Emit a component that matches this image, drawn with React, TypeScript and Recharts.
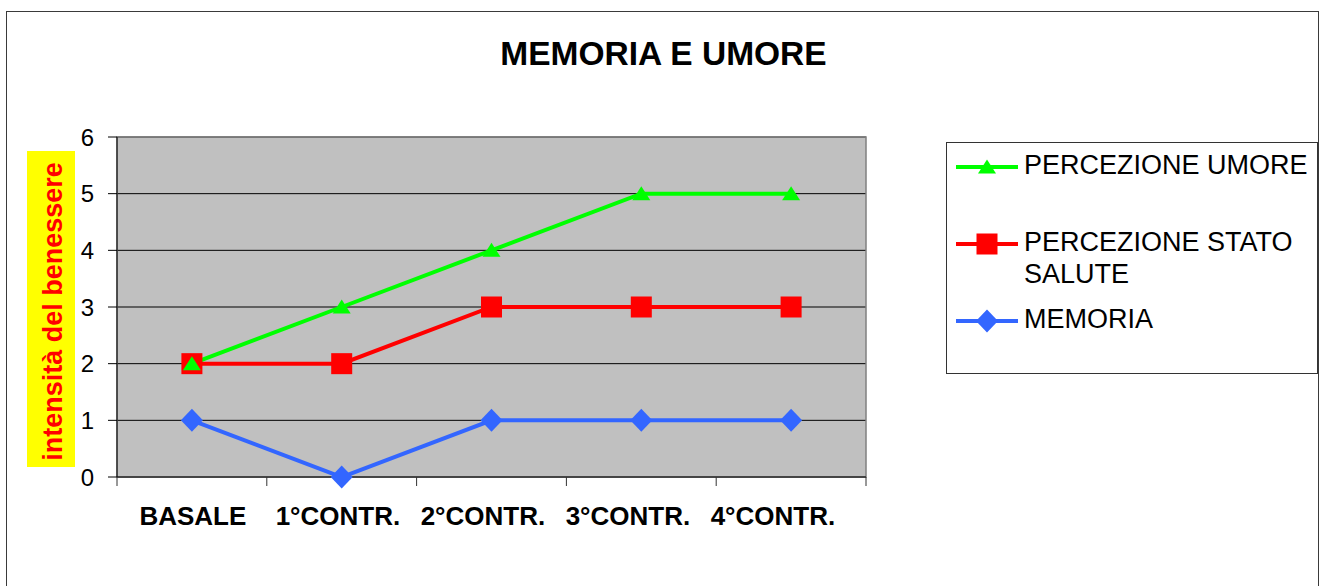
import React from 'react';
import {
  LineChart,
  Line,
  XAxis,
  YAxis,
  CartesianGrid,
  Legend,
  ReferenceArea,
} from 'recharts';

const categories = ['BASALE', '1°CONTR.', '2°CONTR.', '3°CONTR.', '4°CONTR.'];
const umore = [2, 3, 4, 5, 5];
const statoSalute = [2, 2, 3, 3, 3];
const memoria = [1, 0, 1, 1, 1];
const yTicks = [0, 1, 2, 3, 4, 5, 6];
const seriesNames = {
  umore: 'PERCEZIONE UMORE',
  salute: 'PERCEZIONE STATO SALUTE',
  memoria: 'MEMORIA',
};
const title = 'MEMORIA E UMORE';
const yLabel = 'intensità del benessere';

const data = categories.map((cat, i) => ({
  cat,
  umore: umore[i],
  salute: statoSalute[i],
  memoria: memoria[i],
}));

const FONT = '"Liberation Sans", Arial, Helvetica, sans-serif';
const GREEN = '#00ff00';
const RED = '#ff0000';
const BLUE = '#3366ff';

type MarkerKind = 'triangle' | 'square' | 'diamond';
const markerOf: Record<string, MarkerKind> = {
  umore: 'triangle',
  salute: 'square',
  memoria: 'diamond',
};

function Marker({ kind, cx, cy, fill }: { kind: MarkerKind; cx: number; cy: number; fill: string }) {
  if (kind === 'triangle') {
    return <path d={`M${cx},${cy - 7.5} L${cx + 9},${cy + 6.5} L${cx - 9},${cy + 6.5} Z`} fill={fill} />;
  }
  if (kind === 'square') {
    return <rect x={cx - 10.5} y={cy - 10.5} width={21} height={21} fill={fill} />;
  }
  return <path d={`M${cx},${cy - 11.5} L${cx + 11},${cy} L${cx},${cy + 11.5} L${cx - 11},${cy} Z`} fill={fill} />;
}

const makeDot = (kind: MarkerKind, fill: string) => (p: any) => {
  if (p.cx == null || p.cy == null) return <g key={`e-${kind}-${p.index}`} />;
  return (
    <g key={`d-${kind}-${p.index}`}>
      <Marker kind={kind} cx={p.cx} cy={p.cy} fill={fill} />
    </g>
  );
};

// labels in the original are packed slightly tighter than the category bands
const LABEL_DRIFT = 4.8;

const XTick = (props: any) => {
  const { x, y, payload, index, visibleTicksCount } = props;
  const half = payload && typeof payload.offset === 'number' && payload.offset > 0 ? payload.offset : 74.9;
  const isLast = index === (visibleTicksCount ?? categories.length) - 1;
  return (
    <g>
      <line x1={x - half} x2={x - half} y1={y} y2={y + 9} stroke="#333" strokeWidth={1} />
      {isLast && <line x1={x + half} x2={x + half} y1={y} y2={y + 9} stroke="#333" strokeWidth={1} />}
      <text
        x={x + 1 - index * LABEL_DRIFT}
        y={y + 48}
        textAnchor="middle"
        fontFamily={FONT}
        fontWeight="bold"
        fontSize={26}
        fill="#000"
      >
        {payload.value}
      </text>
    </g>
  );
};

const renderLegend = (props: any) => {
  const items = [...(props.payload || [])].reverse();
  const margins = [5.6, 45.5, 13];
  return (
    <div
      style={{
        width: 372,
        height: 232,
        border: '1px solid #333',
        boxSizing: 'border-box',
        background: '#fff',
        fontFamily: FONT,
        fontSize: 27,
        color: '#000',
      }}
    >
      {items.map((it: any, i: number) => {
        const key = it.dataKey as string;
        const color = it.color;
        return (
          <div key={key} style={{ display: 'flex', alignItems: 'flex-start', marginTop: margins[i] }}>
            <svg width={77} height={32} style={{ flex: '0 0 auto' }}>
              <line x1={9} x2={71} y1={18} y2={18} stroke={color} strokeWidth={4} />
              <Marker kind={markerOf[key]} cx={40} cy={18} fill={color} />
            </svg>
            <div style={{ width: 290, lineHeight: '32px' }}>{it.value}</div>
          </div>
        );
      })}
    </div>
  );
};

export default function App() {
  return (
    <div
      style={{
        position: 'absolute',
        left: 0,
        top: 0,
        width: 1320,
        height: 586,
        overflow: 'hidden',
        background: '#fff',
      }}
    >
      <div
        style={{
          position: 'absolute',
          left: 6,
          top: 11,
          width: 1313,
          height: 600,
          border: '1.5px solid #3a3a3a',
          boxSizing: 'border-box',
        }}
      />
      <div style={{ position: 'absolute', left: 0, top: 0 }}>
        <LineChart
          width={1320}
          height={586}
          data={data}
          margin={{ top: 137, right: 454, bottom: 79, left: 57 }}
        >
          <CartesianGrid vertical={false} horizontal stroke="#000" fill="#c0c0c0" fillOpacity={1} />
          <ReferenceArea y1={0} y2={6} fill="none" stroke="#808080" strokeWidth={1.5} ifOverflow="visible" />
          <XAxis
            dataKey="cat"
            scale="band"
            height={30}
            tickLine={false}
            tickSize={0}
            tickMargin={0}
            axisLine={{ stroke: '#333', strokeWidth: 1.5 }}
            tick={<XTick />}
            interval={0}
          />
          <YAxis
            width={60}
            domain={[0, 6]}
            ticks={yTicks}
            interval={0}
            tickSize={9}
            tickMargin={14}
            axisLine={{ stroke: '#000', strokeWidth: 1 }}
            tickLine={{ stroke: '#000' }}
            tick={{ fill: '#000', fontSize: 24, fontFamily: FONT }}
          />
          <Legend
            layout="vertical"
            align="center"
            verticalAlign="middle"
            wrapperStyle={{ position: 'absolute', left: 946, top: 142, width: 372, height: 232 }}
            content={renderLegend}
          />
          <Line
            dataKey="memoria"
            name={seriesNames.memoria}
            stroke={BLUE}
            strokeWidth={4}
            dot={makeDot('diamond', BLUE)}
            activeDot={false}
            isAnimationActive={false}
          />
          <Line
            dataKey="salute"
            name={seriesNames.salute}
            stroke={RED}
            strokeWidth={4}
            dot={makeDot('square', RED)}
            activeDot={false}
            isAnimationActive={false}
          />
          <Line
            dataKey="umore"
            name={seriesNames.umore}
            stroke={GREEN}
            strokeWidth={4}
            dot={makeDot('triangle', GREEN)}
            activeDot={false}
            isAnimationActive={false}
          />
        </LineChart>
      </div>
      <svg
        width={1320}
        height={586}
        style={{ position: 'absolute', left: 0, top: 0, pointerEvents: 'none' }}
      >
        <text x={663.5} y={65} textAnchor="middle" fontFamily={FONT} fontWeight="bold" fontSize={33.5} fill="#000">
          {title}
        </text>
        <rect x={27} y={151} width={48} height={316} fill="#ffff00" />
        <text
          x={62}
          y={311.5}
          transform="rotate(-90 62 311.5)"
          textAnchor="middle"
          fontFamily={FONT}
          fontWeight="bold"
          fontSize={27}
          fill="#ff0000"
        >
          {yLabel}
        </text>
      </svg>
    </div>
  );
}
